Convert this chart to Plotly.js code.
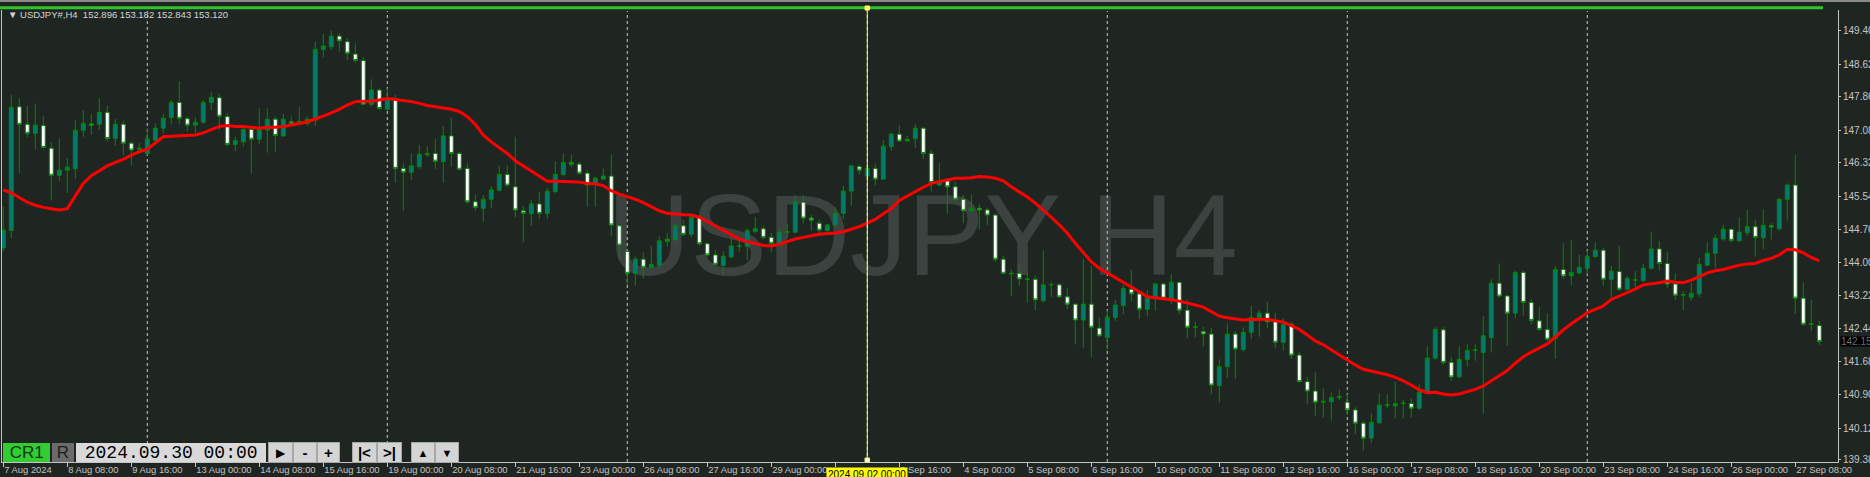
<!DOCTYPE html>
<html><head><meta charset="utf-8">
<script src="https://cdn.plot.ly/plotly-3.0.1.min.js"></script>
<style>html,body{margin:0;padding:0;background:#1f2622;overflow:hidden}#chart{width:1870px;height:477px}</style>
</head><body><div id="chart"></div>
<script>
// ---------- DATA ----------
const openP = [144.33,144.74,147.63,147.22,147.01,147.19,146.66,146.03,146.15,146.18,
147.08,147.23,147.22,147.50,146.89,147.22,146.78,146.64,146.54,146.85,
147.13,147.38,147.73,147.35,147.20,147.27,147.73,147.84,147.40,146.75,
146.81,147.10,146.87,147.09,147.34,146.95,147.28,147.24,147.24,147.32,
148.97,149.03,149.28,149.15,148.86,148.71,147.69,148.02,147.57,147.81,
146.19,146.10,146.23,146.51,146.54,146.35,146.95,146.54,146.19,145.41,
145.26,145.47,145.68,146.05,145.76,145.20,145.13,145.36,145.14,145.65,
146.05,146.33,146.29,146.08,145.84,145.94,146.01,144.85,144.25,143.74,
144.07,143.88,143.93,144.48,144.53,144.85,144.65,145.05,144.43,144.17,
143.92,144.12,144.37,144.37,144.72,144.78,144.58,144.44,144.70,144.70,
145.40,145.03,144.91,144.74,144.87,145.14,145.66,146.23,146.01,146.19,
145.94,146.70,146.99,146.83,146.89,147.13,146.54,145.80,145.90,145.76,
145.47,145.20,145.26,145.22,145.10,144.07,143.74,143.74,143.61,143.60,
143.10,143.47,143.47,143.19,143.02,142.65,143.02,142.46,142.24,142.71,
142.99,143.37,143.26,142.90,143.16,143.49,143.13,143.53,142.88,142.48,
142.38,142.32,141.12,141.56,142.32,141.96,142.36,142.71,142.81,142.61,
142.13,142.55,141.83,141.21,140.99,140.73,140.74,140.84,140.73,140.55,
140.24,139.89,140.25,140.66,140.64,140.70,140.70,140.59,140.96,141.76,
142.42,141.66,141.32,141.73,141.94,141.89,142.24,143.51,143.21,142.81,
143.76,143.06,142.63,142.43,142.22,143.83,143.68,143.75,143.86,144.13,
144.28,143.60,143.78,143.37,143.58,143.57,143.86,144.31,143.97,143.49,
143.23,143.18,143.26,143.93,144.21,144.54,144.77,144.50,144.69,144.83,
144.57,144.85,144.78,145.47,145.80,143.16,142.55,142.52];

const highP = [145.30,147.91,147.83,147.65,147.70,147.41,146.80,146.89,146.43,147.32,
147.55,147.46,147.83,147.65,147.34,147.30,146.81,146.78,147.13,147.24,
147.46,147.79,148.23,147.40,147.38,147.79,147.97,147.93,147.48,146.93,
147.19,147.17,147.59,147.59,147.40,147.46,147.40,147.62,147.40,149.15,
149.33,149.41,149.35,149.23,149.11,148.79,148.27,148.06,148.06,147.91,
146.31,146.54,146.74,146.71,146.87,147.18,147.37,146.58,146.31,145.57,
145.57,145.78,146.25,146.26,146.93,145.31,145.45,145.65,145.73,146.36,
146.54,146.50,146.35,146.15,146.00,146.19,146.50,144.87,144.27,144.13,
144.23,144.38,144.60,144.68,144.89,144.99,145.14,145.10,144.46,144.28,
144.25,144.58,144.56,144.79,145.06,144.85,144.68,144.78,144.89,145.57,
145.57,145.10,144.99,144.89,145.30,145.78,146.27,146.27,146.22,146.29,
146.85,147.02,147.20,146.95,147.23,147.15,146.62,146.31,145.96,145.88,
145.57,145.57,145.36,145.28,145.14,144.15,143.83,143.93,143.76,143.68,
144.27,143.53,143.51,143.39,143.03,144.07,143.91,142.71,142.88,143.12,
143.47,143.82,143.31,143.35,143.52,143.52,143.72,143.55,143.13,142.61,
142.49,142.46,141.73,142.57,142.38,142.48,142.98,142.88,143.08,142.81,
142.69,142.60,141.90,141.32,141.43,141.05,140.96,141.03,140.92,140.61,
140.30,140.47,140.94,140.91,141.21,140.78,140.82,141.15,142.03,142.48,
142.48,141.79,142.03,142.08,142.08,142.74,143.60,143.97,143.23,143.80,
143.80,143.13,142.95,142.81,143.91,144.44,144.52,144.17,144.28,144.46,
144.34,143.91,144.38,143.68,143.79,143.96,144.71,144.50,144.25,143.74,
143.33,143.52,144.10,144.46,144.65,144.87,144.79,145.05,145.22,144.99,
145.24,144.91,145.49,145.84,146.50,143.52,143.12,142.63];

const lowP = [144.25,144.56,146.09,146.92,146.64,146.66,145.44,145.90,145.62,145.95,
146.93,146.97,147.09,146.81,146.72,146.50,146.27,146.54,146.50,146.78,
147.01,147.22,147.22,147.05,147.02,147.23,147.55,147.09,146.70,146.60,
146.70,146.07,146.76,146.56,146.58,146.93,147.18,147.20,147.18,147.18,
148.78,148.96,148.92,148.72,148.66,147.67,147.63,147.55,147.55,145.86,
145.20,145.92,146.18,146.46,146.18,145.86,146.23,146.14,145.36,145.20,
144.95,145.26,145.65,145.75,145.05,144.46,144.85,145.00,145.01,145.61,
146.00,146.23,146.04,145.30,145.30,145.92,144.60,144.05,143.47,143.45,
143.62,143.86,143.86,144.36,144.48,144.61,144.58,144.38,144.14,143.91,
143.68,144.09,144.25,144.05,144.68,144.53,144.23,144.43,144.56,144.68,
144.91,144.74,144.61,144.66,144.83,145.01,145.32,146.05,146.00,145.79,
145.92,146.60,146.81,146.81,146.67,146.41,145.65,145.80,145.14,145.44,
144.91,145.17,144.77,144.87,144.01,143.74,143.21,143.45,143.05,142.88,
143.06,143.19,143.17,142.90,142.08,142.00,141.79,142.25,141.95,142.63,
142.78,143.10,142.67,142.73,142.87,143.14,143.02,142.78,142.22,142.24,
142.03,140.91,140.72,141.30,141.27,141.91,142.20,142.26,142.46,141.99,
141.93,141.74,141.19,140.68,140.41,140.37,140.30,140.78,140.43,139.98,
139.60,139.77,140.22,140.59,140.35,140.35,140.37,140.55,140.92,141.72,
141.60,141.23,141.31,141.56,141.70,140.47,141.89,143.17,142.05,142.69,
142.75,142.55,142.39,142.17,141.74,143.60,143.47,143.72,143.72,144.11,
143.45,143.17,143.33,143.35,143.41,143.54,143.83,143.80,143.40,143.12,
142.88,143.10,143.19,143.91,143.86,144.50,144.46,144.48,144.61,144.13,
144.31,144.53,144.74,144.97,142.79,142.52,142.39,142.07];

const closeP = [144.75,147.62,147.22,147.01,147.20,146.68,146.03,146.15,146.22,147.08,
147.24,147.20,147.50,146.89,147.22,146.78,146.62,146.66,146.88,147.13,
147.36,147.73,147.36,147.20,147.27,147.73,147.85,147.41,146.75,146.84,
147.10,146.87,147.10,147.34,146.96,147.34,147.24,147.29,147.34,148.97,
149.05,149.28,149.17,148.88,148.71,147.69,148.02,147.59,147.83,146.19,
146.10,146.25,146.52,146.54,146.36,146.95,146.54,146.17,145.41,145.28,
145.47,145.69,146.05,145.80,145.22,145.14,145.36,145.14,145.66,146.05,
146.33,146.29,146.08,145.80,145.96,146.01,144.87,144.40,143.74,144.07,
143.88,143.95,144.50,144.54,144.85,144.65,145.05,144.43,144.17,143.95,
144.14,144.38,144.38,144.74,144.78,144.58,144.44,144.70,144.71,145.41,
145.03,144.98,144.75,144.87,145.14,145.66,146.25,146.15,146.19,145.94,
146.71,146.99,146.83,146.87,147.13,146.54,145.86,145.88,145.76,145.47,
145.20,145.26,145.22,145.10,144.07,143.74,143.73,143.61,143.60,143.12,
143.47,143.48,143.19,143.02,142.65,143.02,142.48,142.28,142.71,143.00,
143.39,143.26,142.90,143.17,143.49,143.16,143.53,142.88,142.48,142.49,
142.32,141.13,141.56,142.32,141.97,142.36,142.71,142.81,142.61,142.13,
142.55,141.83,141.21,140.99,140.73,140.75,140.84,140.86,140.55,140.24,
139.89,140.26,140.66,140.67,140.70,140.71,140.59,140.97,141.76,142.43,
141.66,141.32,141.73,141.94,141.95,142.28,143.51,143.21,142.81,143.76,
143.06,142.64,142.43,142.20,143.83,143.68,143.76,143.88,144.13,144.28,
143.60,143.79,143.37,143.62,143.59,143.86,144.31,143.97,143.49,143.23,
143.24,143.27,143.95,144.21,144.56,144.77,144.51,144.70,144.83,144.58,
144.86,144.82,145.47,145.80,143.16,142.55,142.56,142.15];

const maValues = [145.69,145.62,145.51,145.40,145.33,145.28,145.25,145.22,145.25,145.55,
145.84,146.02,146.13,146.25,146.33,146.40,146.50,146.58,146.64,146.79,
146.93,146.94,146.95,146.96,146.97,147.02,147.10,147.17,147.19,147.17,
147.17,147.15,147.13,147.15,147.15,147.17,147.20,147.24,147.28,147.34,
147.41,147.49,147.57,147.67,147.75,147.76,147.76,147.79,147.82,147.80,
147.78,147.75,147.71,147.66,147.63,147.60,147.57,147.52,147.40,147.22,
146.97,146.81,146.68,146.54,146.37,146.25,146.11,146.00,145.89,145.89,
145.89,145.88,145.87,145.84,145.83,145.79,145.67,145.59,145.53,145.47,
145.39,145.30,145.20,145.14,145.12,145.11,145.10,145.05,144.95,144.85,
144.74,144.64,144.54,144.48,144.43,144.39,144.38,144.42,144.48,144.54,
144.58,144.62,144.65,144.67,144.68,144.71,144.77,144.83,144.91,145.00,
145.13,145.25,145.44,145.55,145.66,145.75,145.84,145.88,145.92,145.96,
145.96,145.97,146.00,145.99,145.96,145.90,145.76,145.65,145.52,145.38,
145.22,145.05,144.87,144.68,144.44,144.22,144.01,143.86,143.74,143.64,
143.53,143.43,143.31,143.19,143.17,143.14,143.12,143.09,143.05,143.00,
142.95,142.84,142.74,142.70,142.67,142.65,142.66,142.67,142.67,142.63,
142.60,142.52,142.43,142.30,142.16,142.07,141.95,141.83,141.72,141.60,
141.50,141.46,141.42,141.37,141.31,141.23,141.13,141.02,140.95,140.96,
140.92,140.90,140.92,140.97,141.03,141.11,141.23,141.35,141.47,141.64,
141.79,141.90,141.99,142.09,142.25,142.42,142.56,142.70,142.82,142.90,
142.98,143.13,143.21,143.29,143.37,143.47,143.49,143.52,143.56,143.53,
143.52,143.58,143.66,143.75,143.80,143.83,143.88,143.93,143.96,143.97,
144.04,144.09,144.17,144.30,144.29,144.22,144.11,144.03];

const timeTickBars = [0,8,16,24,32,40,48,56,64,72,80,88,96,104,112,120,128,136,144,152,160,168,176,184,192,200,208,216,224];
// the label at bar 104 is hidden under the highlighted marker label in the reference
const timeTickLabels = ["7 Aug 2024","8 Aug 08:00","9 Aug 16:00","13 Aug 00:00","14 Aug 08:00","15 Aug 16:00","19 Aug 00:00","20 Aug 08:00","21 Aug 16:00","23 Aug 00:00","26 Aug 08:00","27 Aug 16:00","29 Aug 00:00","","2 Sep 16:00","4 Sep 00:00","5 Sep 08:00","6 Sep 16:00","10 Sep 00:00","11 Sep 08:00","12 Sep 16:00","16 Sep 00:00","17 Sep 08:00","18 Sep 16:00","20 Sep 00:00","23 Sep 08:00","24 Sep 16:00","26 Sep 00:00","27 Sep 08:00"];
const priceTickLabels = ["149.40","148.62","147.86","147.08","146.32","145.54","144.76","144.00","143.22","142.44","141.68","140.90","140.12","139.38"];
const weekStartBars = [18,48,78,108,138,168,198];
const markerBar = 108;
const markerLabel = "2024.09.02 00:00";
const lastPrice = 142.15;
const headerText = "\u25BC USDJPY#,H4\u00a0\u00a0152.896 153.182 152.843 153.120";
const watermarkText = "USDJPY H4";
const replayDate = "2024.09.30 00:00";

// ---------- LAYOUT HELPERS ----------
const W = 1870, H = 477, ML = 2, MR = 32, MT = 10, MB = 15;
const PW = W - ML - MR, PH = H - MT - MB;
const px = x => (x - ML) / PW;
const py = y => (H - MB - y) / PH;
const FONT = "Liberation Sans, Arial, sans-serif";
const AXC = "#c4c4c4";
const barIndex = openP.map((_, i) => i);

const traces = [
  {
    type: 'candlestick', x: barIndex, open: openP, high: highP, low: lowP, close: closeP,
    increasing: {line: {color: '#008a00', width: 1}, fillcolor: '#007878'},
    decreasing: {line: {color: '#008a00', width: 1}, fillcolor: '#ffffff'},
    whiskerwidth: 0, hoverinfo: 'skip', showlegend: false
  },
  {
    type: 'scatter', mode: 'lines', x: barIndex, y: maValues,
    line: {color: '#ff0000', width: 3}, hoverinfo: 'skip', showlegend: false
  }
];

const shapes = [];
// top window line and green bar
shapes.push({type:'rect', xref:'paper', yref:'paper', x0:px(0), x1:px(W), y0:py(2), y1:py(0), line:{width:0}, fillcolor:'#8a8a8a', layer:'above'});
shapes.push({type:'rect', xref:'paper', yref:'paper', x0:px(0), x1:px(1823), y0:py(9.3), y1:py(6.3), line:{width:0}, fillcolor:'#31c431', layer:'above'});
// watermark
shapes.push({type:'rect', xref:'paper', yref:'paper', x0:px(560), x1:px(1285), y0:py(288), y1:py(160), line:{width:0}, fillcolor:'rgba(0,0,0,0)', layer:'below',
  label:{text: watermarkText, textposition:'middle center', font:{family: FONT, size: 115, color:'#3c4240'}}});
// week separators
weekStartBars.forEach(b => shapes.push({type:'line', x0:b, x1:b, xref:'x', yref:'paper', y0:0, y1:py(11), line:{color:'#c8c8c8', width:1, dash:'3px,3px'}, layer:'below'}));
// vertical marker line
shapes.push({type:'line', x0:markerBar, x1:markerBar, xref:'x', yref:'paper', y0:0, y1:py(7), line:{color:'#ffff5a', width:1}, layer:'above'});
shapes.push({type:'rect', x0:markerBar-0.28, x1:markerBar+0.28, xref:'x', yref:'paper', y0:py(462), y1:py(458), line:{color:'#ffff5a', width:1}, fillcolor:'#ffffff', layer:'above'});
shapes.push({type:'rect', x0:markerBar-0.28, x1:markerBar+0.28, xref:'x', yref:'paper', y0:py(10), y1:py(6), line:{color:'#ffff5a', width:1}, fillcolor:'#ffff5a', layer:'above'});

function pbox(x0, x1, y0, y1, text, bg, font, border) {
  return {xref:'paper', yref:'paper', x:px(x0), y:py(y0), xanchor:'left', yanchor:'top',
    width:x1-x0, height:y1-y0, bgcolor:bg, bordercolor:border || bg, borderwidth:border ? 1 : 0,
    borderpad:0, text:text, font:font, showarrow:false, align:'center', valign:'middle'};
}
const btnFont = {family: FONT, size: 15, color: '#000000'};
const btnBg = '#d4d4d4', btnBd = '#a8a8a8';

const annotations = [
  {xref:'paper', yref:'paper', x:px(6), y:py(15), xanchor:'left', yanchor:'middle', text:headerText, showarrow:false,
   font:{family: FONT, size: 9.5, color:'#d4d4d4'}},
  // marker time label
  {xref:'x', yref:'paper', x:markerBar, y:py(466.5), xanchor:'center', yanchor:'top', text:markerLabel, showarrow:false,
   bgcolor:'#ffff00', borderpad:1, font:{family: FONT, size: 10, color:'#000000'}},
  // last price box
  {xref:'paper', yref:'y', x:px(1840), y:lastPrice, xanchor:'left', yanchor:'middle', width:30, height:9, borderpad:0,
   text: lastPrice.toFixed(2), showarrow:false, bgcolor:'#000000', align:'left', font:{family: FONT, size: 10, color:'#6e6e6e'}},
  // replay control strip
  pbox(3.3, 50.7, 442.7, 461.7, 'CR1', '#33cc33', {family: FONT, size: 17, color:'#0d3a0d'}),
  pbox(52.3, 74, 442.7, 461.7, 'R', '#6b6b6b', {family: FONT, size: 17, color:'#1e1e1e'}),
  pbox(75.7, 266, 442.7, 461.7, replayDate, '#d9d9d9', {family: 'Liberation Mono, DejaVu Sans Mono, monospace', size: 18, color:'#000000'}),
  pbox(268, 291, 442, 461, '\u25B6', btnBg, {family: FONT, size: 12, color:'#000'}, btnBd),
  pbox(293, 315, 442, 461, '<b>-</b>', btnBg, btnFont, btnBd),
  pbox(317, 338, 442, 461, '<b>+</b>', btnBg, btnFont, btnBd),
  pbox(352, 375, 442, 461, '<b>|&lt;</b>', btnBg, btnFont, btnBd),
  pbox(377, 400, 442, 461, '<b>&gt;|</b>', btnBg, btnFont, btnBd),
  pbox(411, 433, 442, 461, '\u25B2', btnBg, {family: FONT, size: 11, color:'#000'}, btnBd),
  pbox(435, 457, 442, 461, '\u25BC', btnBg, {family: FONT, size: 11, color:'#000'}, btnBd)
];

const layout = {
  width: W, height: H,
  margin: {l: ML, r: MR, t: MT, b: MB, pad: 0},
  paper_bgcolor: '#1f2622', plot_bgcolor: '#1f2622',
  showlegend: false,
  xaxis: {
    type: 'linear', range: [-0.1625, 229.34], fixedrange: true,
    tickmode: 'array', tickvals: timeTickBars, ticktext: timeTickLabels,
    ticks: 'outside', ticklen: 4, tickcolor: AXC, tickwidth: 1,
    ticklabelposition: 'outside right', tickangle: 0, ticklabelstandoff: -1,
    tickfont: {family: FONT, size: 9.4, color: AXC},
    showgrid: false, zeroline: false, showline: true, linecolor: AXC, linewidth: 1,
    rangeslider: {visible: false}
  },
  yaxis: {
    side: 'right', range: [139.333, 149.890], fixedrange: true,
    tickmode: 'array', tickvals: priceTickLabels.map(Number), ticktext: priceTickLabels,
    ticks: 'outside', ticklen: 2, tickcolor: AXC,
    tickfont: {family: FONT, size: 10, color: AXC},
    showgrid: false, zeroline: false, showline: true, linecolor: AXC, linewidth: 1, mirror: true
  },
  shapes: shapes,
  annotations: annotations
};

Plotly.newPlot('chart', traces, layout, {displayModeBar: false, staticPlot: true});
</script>
</body></html>
